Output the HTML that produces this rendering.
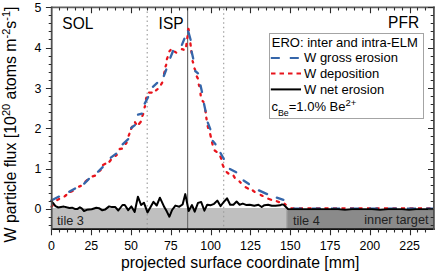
<!DOCTYPE html><html><head><meta charset="utf-8"><style>html,body{margin:0;padding:0;background:#fff;overflow:hidden}svg{display:block}text{font-family:"Liberation Sans",sans-serif;fill:#000}</style></head><body>
<svg width="436" height="272" viewBox="0 0 436 272">
<rect x="51.5" y="208.0" width="234.70" height="21.5" fill="#bfbfbf"/>
<rect x="286.2" y="210.3" width="147.30" height="19.20" fill="#8a8a8a"/>
<rect x="286" y="209.2" width="1.4" height="20" fill="#a8a8a8"/>
<text x="57.1" y="224.6" font-size="12.7" style="fill:#222">tile 3</text>
<text x="292.9" y="224.6" font-size="12.7" style="fill:#222">tile 4</text>
<text x="364.3" y="224.4" font-size="12.7" style="fill:#222">inner target</text>
<line x1="147.2" y1="7.5" x2="147.2" y2="229.5" stroke="#999" stroke-width="1.1" stroke-dasharray="1.4,3.1" stroke-dashoffset="0.4"/>
<line x1="223.7" y1="7.5" x2="223.7" y2="229.5" stroke="#999" stroke-width="1.1" stroke-dasharray="1.4,3.1" stroke-dashoffset="3.2"/>
<line x1="187.6" y1="7.5" x2="187.6" y2="229.5" stroke="#6e6e6e" stroke-width="1.2"/>
<path d="M51.5,206.7 L52.7,205.3M57.2,200.0 L59.1,198.9M64.6,196.4 L66.3,195.0M70.4,191.9 L72.6,190.9M79.1,186.6 L80.8,185.9M85.4,181.6 L87.4,180.0M92.7,176.4 L95.0,175.6M99.4,171.0 L100.6,170.1M103.0,165.0 L105.3,163.8M109.4,161.7 L110.8,160.0M115.6,155.9 L116.8,154.9M119.7,149.0 L121.9,148.6M125.6,143.9 L126.6,142.7M128.7,135.6 L129.4,133.8M131.1,128.9 L132.2,126.6M135.0,122.3 L136.0,123.8M139.0,123.9 L140.8,121.8M142.4,115.9 L143.2,114.0M144.6,107.4 L145.0,106.2M146.0,98.8 L146.4,97.7M149.1,92.6 L151.7,92.6M156.0,90.3 L157.6,89.1M161.1,84.5 L162.2,82.6M164.1,73.8 L164.6,71.7M165.6,66.4 L166.2,64.8M166.9,59.2 L167.6,57.3M169.4,51.2 L170.6,50.0M174.7,51.6 L176.2,52.6M181.9,49.2 L183.6,49.7M186.2,46.1 L186.5,43.9M187.3,38.1 L187.6,36.2M188.0,30.8 L188.4,28.8 L188.8,30.3M190.4,43.5 L190.7,45.6M191.3,51.2 L191.8,53.3M192.6,61.1 L193.1,62.5M194.5,68.5 L195.1,69.7M196.8,76.5 L197.8,78.4M198.8,84.7 L199.3,86.1M200.5,93.7 L200.7,95.4M202.6,101.0 L203.5,102.0M205.3,110.6 L205.7,112.3M206.3,117.6 L206.6,119.3M207.7,126.2 L208.2,127.9M210.2,134.1 L210.8,136.7M212.1,142.4 L212.6,144.5M214.7,150.5 L216.6,151.9M220.4,156.6 L221.3,158.8M222.6,164.6 L223.5,166.7M226.7,172.1 L228.4,173.5M233.6,175.8 L234.7,177.7M239.5,181.5 L240.7,182.7M245.7,187.3 L248.0,188.5M252.8,190.5 L254.6,191.9M260.7,194.9 L262.6,195.9M268.3,198.7 L271.1,199.8M276.8,201.2 L279.0,202.1M284.6,203.7 L285.7,204.8" fill="none" stroke="#e8141c" stroke-width="2.3" stroke-linecap="round" stroke-linejoin="round"/>
<line x1="290.5" y1="208.3" x2="433" y2="208.3" stroke="#e8141c" stroke-width="2" stroke-dasharray="4,4.5" stroke-dashoffset="0"/>
<path d="M51.2,200.6 L59.0,196.6M69.2,191.8 L75.1,188.5M84.2,183.6 L88.9,178.9M98.0,171.8 L102.7,167.1M110.8,157.7 L116.2,153.6M122.6,144.3 L128.2,139.1M131.2,128.0 L134.9,125.2M138.0,114.6 L141.9,113.6M144.7,103.6 L148.1,97.1M152.9,86.8 L157.2,82.9M163.8,76.0 L166.3,69.5M170.4,57.7 L173.0,51.0M181.9,44.9 L184.4,38.8M188.1,31.4 L188.6,32.6 L190.6,39.8M191.6,51.5 L193.2,58.5M195.2,71.0 L198.0,73.3M200.5,85.3 L202.0,91.9M204.0,103.8 L205.6,111.2M207.8,122.6 L210.3,129.2M212.8,140.9 L215.5,144.3M220.5,153.0 L223.8,158.9M229.9,168.9 L236.2,172.3M243.6,180.5 L248.9,184.0M258.9,190.4 L267.1,194.1M276.8,197.7 L283.4,199.9" fill="none" stroke="#3566aa" stroke-width="2.3" stroke-linecap="round" stroke-linejoin="round"/>
<line x1="293" y1="208.5" x2="433" y2="208.5" stroke="#3566aa" stroke-width="2" stroke-dasharray="9,10" stroke-dashoffset="0"/>
<polyline points="51.5,201.5 53.7,203.8 55.5,206.1 58.3,207.5 61.0,207.0 63.8,206.6 66.6,207.3 69.3,207.9 72.1,207.7 74.8,208.9 77.6,208.9 79.9,207.3 81.7,208.4 84.0,211.0 86.8,209.8 91.7,209.3 96.3,207.8 99.0,208.2 102.3,210.3 105.0,209.6 109.1,206.4 111.9,207.1 115.1,206.9 118.3,210.5 122.5,205.0 124.8,205.0 128.2,210.1 131.4,206.4 134.7,211.9 137.9,196.7 141.1,205.0 143.9,202.7 147.5,212.4 153.5,201.8 156.7,205.5 159.9,197.7 164.4,207.3 166.6,211.1 169.4,216.7 172.1,210.0 175.4,205.6 179.3,206.7 182.6,204.5 185.3,194.1 188.7,211.1 192.0,205.1 194.7,211.7 198.0,202.9 201.2,202.0 204.4,210.7 207.2,204.7 210.9,205.2 214.1,203.8 217.3,200.6 220.5,206.1 223.7,202.0 227.0,198.3 230.2,204.7 233.4,204.7 236.6,201.5 239.6,204.7 242.8,203.6 246.0,204.9 249.7,204.7 254.3,205.8 258.4,204.7 261.7,207.0 264.4,205.2 268.1,204.7 271.8,205.8 275.5,205.8 280.1,205.3 282.0,204.4 283.8,204.9 288.2,209.3 338.0,209.3 345.0,209.7 352.0,209.3 372.0,209.3 380.0,209.8 388.0,209.3 402.0,209.3 409.0,209.8 416.0,209.3 433.5,209.3" fill="none" stroke="#000" stroke-width="2" stroke-linejoin="round"/>
<path d="M51.0,7.45H434.8" stroke="#606060" stroke-width="1.8" fill="none"/>
<path d="M51.0,229.1H434.8" stroke="#111" stroke-width="1.7" fill="none"/>
<path d="M51.7,6.6V230" stroke="#505050" stroke-width="1.8" fill="none"/>
<path d="M433.9,6.6V230" stroke="#505050" stroke-width="1.8" fill="none"/>
<path d="M45.9,209.50H51.5M433.5,209.50H428.0M45.9,169.50H51.5M433.5,169.50H428.0M45.9,128.50H51.5M433.5,128.50H428.0M45.9,88.50H51.5M433.5,88.50H428.0M45.9,48.50H51.5M433.5,48.50H428.0M45.9,7.50H51.5M433.5,7.50H428.0M48.7,225.50H51.5M433.5,225.50H430.7M48.7,217.50H51.5M433.5,217.50H430.7M48.7,201.50H51.5M433.5,201.50H430.7M48.7,193.50H51.5M433.5,193.50H430.7M48.7,185.50H51.5M433.5,185.50H430.7M48.7,177.50H51.5M433.5,177.50H430.7M48.7,161.50H51.5M433.5,161.50H430.7M48.7,153.50H51.5M433.5,153.50H430.7M48.7,144.50H51.5M433.5,144.50H430.7M48.7,136.50H51.5M433.5,136.50H430.7M48.7,120.50H51.5M433.5,120.50H430.7M48.7,112.50H51.5M433.5,112.50H430.7M48.7,104.50H51.5M433.5,104.50H430.7M48.7,96.50H51.5M433.5,96.50H430.7M48.7,80.50H51.5M433.5,80.50H430.7M48.7,72.50H51.5M433.5,72.50H430.7M48.7,64.50H51.5M433.5,64.50H430.7M48.7,56.50H51.5M433.5,56.50H430.7M48.7,39.50H51.5M433.5,39.50H430.7M48.7,31.50H51.5M433.5,31.50H430.7M48.7,23.50H51.5M433.5,23.50H430.7M48.7,15.50H51.5M433.5,15.50H430.7M59.50,229.5V232.5M59.50,7.5V10.5M67.50,229.5V232.5M67.50,7.5V10.5M75.50,229.5V232.5M75.50,7.5V10.5M83.50,229.5V232.5M83.50,7.5V10.5M91.50,229.5V235.2M91.50,7.5V13.2M99.50,229.5V232.5M99.50,7.5V10.5M107.50,229.5V232.5M107.50,7.5V10.5M115.50,229.5V232.5M115.50,7.5V10.5M123.50,229.5V232.5M123.50,7.5V10.5M131.50,229.5V235.2M131.50,7.5V13.2M139.50,229.5V232.5M139.50,7.5V10.5M147.50,229.5V232.5M147.50,7.5V10.5M155.50,229.5V232.5M155.50,7.5V10.5M163.50,229.5V232.5M163.50,7.5V10.5M171.50,229.5V235.2M171.50,7.5V13.2M179.50,229.5V232.5M179.50,7.5V10.5M187.50,229.5V232.5M187.50,7.5V10.5M195.50,229.5V232.5M195.50,7.5V10.5M203.50,229.5V232.5M203.50,7.5V10.5M211.50,229.5V235.2M211.50,7.5V13.2M219.50,229.5V232.5M219.50,7.5V10.5M226.50,229.5V232.5M226.50,7.5V10.5M234.50,229.5V232.5M234.50,7.5V10.5M242.50,229.5V232.5M242.50,7.5V10.5M250.50,229.5V235.2M250.50,7.5V13.2M258.50,229.5V232.5M258.50,7.5V10.5M266.50,229.5V232.5M266.50,7.5V10.5M274.50,229.5V232.5M274.50,7.5V10.5M282.50,229.5V232.5M282.50,7.5V10.5M290.50,229.5V235.2M290.50,7.5V13.2M298.50,229.5V232.5M298.50,7.5V10.5M306.50,229.5V232.5M306.50,7.5V10.5M314.50,229.5V232.5M314.50,7.5V10.5M322.50,229.5V232.5M322.50,7.5V10.5M330.50,229.5V235.2M330.50,7.5V13.2M338.50,229.5V232.5M338.50,7.5V10.5M346.50,229.5V232.5M346.50,7.5V10.5M354.50,229.5V232.5M354.50,7.5V10.5M362.50,229.5V232.5M362.50,7.5V10.5M370.50,229.5V235.2M370.50,7.5V13.2M378.50,229.5V232.5M378.50,7.5V10.5M386.50,229.5V232.5M386.50,7.5V10.5M394.50,229.5V232.5M394.50,7.5V10.5M402.50,229.5V232.5M402.50,7.5V10.5M410.50,229.5V235.2M410.50,7.5V13.2M417.50,229.5V232.5M417.50,7.5V10.5M425.50,229.5V232.5M425.50,7.5V10.5M51.5,229.5V235.2" stroke="#2a2a2a" stroke-width="1.1" fill="none"/>
<text x="41.5" y="212.92" font-size="12.4" text-anchor="end">0</text>
<text x="41.5" y="173.15" font-size="12.4" text-anchor="end">1</text>
<text x="41.5" y="132.79" font-size="12.4" text-anchor="end">2</text>
<text x="41.5" y="92.63" font-size="12.4" text-anchor="end">3</text>
<text x="41.5" y="52.26" font-size="12.4" text-anchor="end">4</text>
<text x="41.5" y="11.90" font-size="12.4" text-anchor="end">5</text>
<text x="51.50" y="250" font-size="12.4" text-anchor="middle">0</text>
<text x="91.29" y="250" font-size="12.4" text-anchor="middle">25</text>
<text x="131.08" y="250" font-size="12.4" text-anchor="middle">50</text>
<text x="170.88" y="250" font-size="12.4" text-anchor="middle">75</text>
<text x="210.67" y="250" font-size="12.4" text-anchor="middle">100</text>
<text x="250.46" y="250" font-size="12.4" text-anchor="middle">125</text>
<text x="290.25" y="250" font-size="12.4" text-anchor="middle">150</text>
<text x="330.04" y="250" font-size="12.4" text-anchor="middle">175</text>
<text x="369.83" y="250" font-size="12.4" text-anchor="middle">200</text>
<text x="409.62" y="250" font-size="12.4" text-anchor="middle">225</text>
<text x="121" y="267.6" font-size="15.8" textLength="238.4" lengthAdjust="spacingAndGlyphs">projected surface coordinate [mm]</text>
<text transform="translate(16,242.4) rotate(-90)" font-size="15.9">W particle flux [10<tspan font-size="11" dy="-5.7">20</tspan><tspan dy="5.7"> atoms m</tspan><tspan font-size="11" dy="-5.7">-2</tspan><tspan dy="5.7">s</tspan><tspan font-size="11" dy="-5.7">-1</tspan><tspan dy="5.7">]</tspan></text>
<text transform="translate(62.3,29.3) scale(1,1.12)" font-size="15.5">SOL</text>
<text transform="translate(158.6,28.8) scale(1,1.12)" font-size="15.5">ISP</text>
<text transform="translate(388.1,28.2) scale(1,1.12)" font-size="15.5">PFR</text>
<rect x="269.5" y="33.5" width="154" height="85" fill="#fff" stroke="#a4a4a4" stroke-width="1"/>
<text x="271.8" y="46.6" font-size="13">ERO: inter and intra-ELM</text>
<line x1="270.8" y1="58" x2="300" y2="58" stroke="#3566aa" stroke-width="2" stroke-dasharray="9,10"/>
<text x="304" y="61.7" font-size="13">W gross erosion</text>
<line x1="271" y1="73.6" x2="301.5" y2="73.6" stroke="#e8141c" stroke-width="2" stroke-dasharray="4.5,4"/>
<text x="304" y="78" font-size="13">W deposition</text>
<line x1="270.8" y1="89.4" x2="301" y2="89.4" stroke="#000" stroke-width="2"/>
<text x="304" y="93.8" font-size="13">W net erosion</text>
<text x="271.5" y="111.3" font-size="13">c<tspan font-size="8.8" dy="4.5">Be</tspan><tspan dy="-4.5">=1.0% Be</tspan><tspan font-size="9.5" dy="-5">2+</tspan></text>
</svg></body></html>
